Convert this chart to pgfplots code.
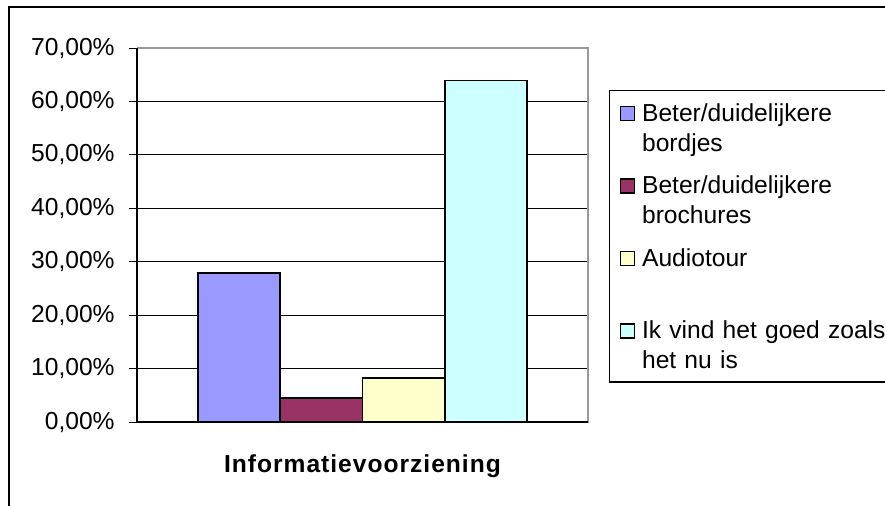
\documentclass[border=0pt]{standalone}
\usepackage{fontspec}
\setmainfont{Liberation Sans}
\newfontfamily\spacedfont[LetterSpace=4]{Liberation Sans}
\usepackage{pgfplots}
\pgfplotsset{compat=1.18}
\definecolor{cA}{HTML}{9999FF}
\definecolor{cB}{HTML}{993366}
\definecolor{cC}{HTML}{FFFFCC}
\definecolor{cD}{HTML}{CCFFFF}
\definecolor{cBorder}{HTML}{999999}
\newcommand\ta{\rule{0pt}{11pt}}
\newcommand\tb{\rule[-2.5pt]{0pt}{2.5pt}}
\begin{document}
\begin{tikzpicture}
\path[use as bounding box] (0,0) rectangle (442.5pt,252.5pt);
\clip (0,0) rectangle (442.5pt,252.5pt);
\fill[white] (0,0) rectangle (442.5pt,252.5pt);
\draw[black, line width=1pt] (4.25pt,-10pt) rectangle (460pt,249.25pt);
\begin{axis}[
  at={(68.5pt,41.5pt)}, anchor=south west,
  scale only axis, width=225.5pt, height=187pt,
  xmin=-0.5, xmax=0.5, ymin=0, ymax=70,
  ybar=0pt, bar width=0.1825,
  xtick=\empty,
  ytick={0,10,...,70},
  axis x line*=bottom, axis y line*=left,
  axis line style={draw=none},
  clip=false,
  ymajorgrids,
  grid style={black, line width=0.5pt},
  tick align=outside,
  major tick length=4pt,
  y tick style={black, line width=0.5pt},
  /pgf/number format/.cd, fixed, fixed zerofill, precision=2, use comma, assume math mode=true,
  /pgfplots/.cd,
  yticklabel={\pgfmathprintnumber{\tick}\%},
  tick label style={font=\fontsize{12.3}{15}\selectfont},
  yticklabel style={inner xsep=0pt, xshift=-7pt},
  xlabel={\spacedfont\bfseries Informatievoorziening},
  xlabel style={at={(axis description cs:0.5,0)}, anchor=base, yshift=-25.3pt, font=\fontsize{12.3}{15}\selectfont},
  legend image code/.code={\draw[#1, line width=0.75pt] (0pt,0.3pt) rectangle (7pt,7.3pt);},
  legend style={at={(1.0466,0.8877)}, anchor=north west, draw=black, line width=0.6pt,
    inner xsep=5pt, inner ysep=4.2pt, row sep=7.75pt, column sep=3.5pt,
    font=\fontsize{12.3}{15}\selectfont,
    cells={anchor=base west},
    nodes={inner sep=0pt, text width=130pt, align=left, text depth={}, text height={}}},
  after end axis/.code={
    \draw[cBorder, line width=1pt] (rel axis cs:0,1) -- (rel axis cs:1,1) -- (rel axis cs:1,0) -- (rel axis cs:0,0);
    \draw[black, line width=0.6pt] (rel axis cs:0,1) -- (rel axis cs:0,0) -- (rel axis cs:1,0);
  },
]
\addplot[fill=cA, draw=black, line width=0.8pt] coordinates {(0,27.9)};
\addlegendentry{\ta Beter/duidelijkere\\bordjes\tb}
\addplot[fill=cB, draw=black, line width=0.8pt] coordinates {(0,4.5)};
\addlegendentry{\ta Beter/duidelijkere\\brochures\tb}
\addplot[fill=cC, draw=black, line width=0.8pt] coordinates {(0,8.2)};
\addlegendentry{\ta Audiotour\\\tb}
\addplot[fill=cD, draw=black, line width=0.8pt] coordinates {(0,63.9)};
\addlegendentry{\ta Ik vind het goed zoals\\het nu is\tb}
\end{axis}
\end{tikzpicture}
\end{document}
